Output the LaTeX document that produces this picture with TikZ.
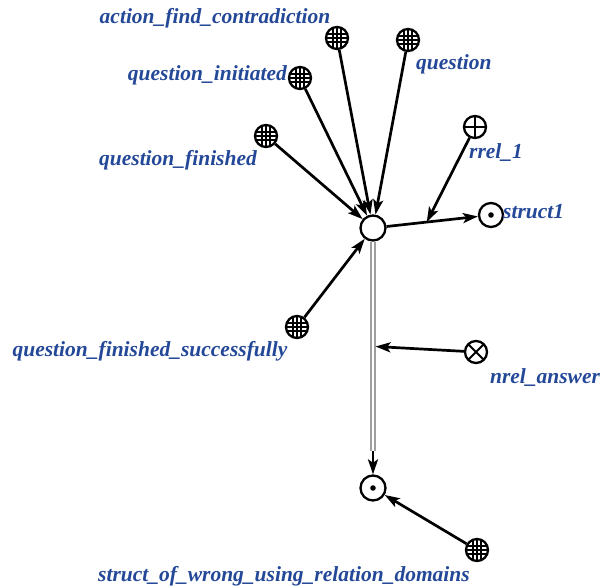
\documentclass[tikz,border=0pt]{standalone}
\usepackage{fontspec}
\setmainfont{Liberation Serif}
\usetikzlibrary{arrows.meta,calc}
\definecolor{lblue}{RGB}{36,72,152}
\tikzset{
  lbl/.style={font=\fontsize{21.5}{24}\selectfont\bfseries\itshape, text=lblue, inner sep=0pt},
  scnode/.style={circle, draw=black, line width=2.3pt, fill=white, minimum size=22pt, inner sep=0pt},
  cls/.style={scnode, minimum size=22pt, path picture={
      \foreach \d in {-4,0,4}{
        \draw[black, line width=1.1pt] ($(path picture bounding box.center)+(\d pt,-13pt)$) -- ++(0,26pt);
        \draw[black, line width=1.1pt] ($(path picture bounding box.center)+(-13pt,\d pt)$) -- ++(26pt,0);
      }}},
  rrel/.style={scnode, minimum size=22pt, path picture={
      \draw[black, line width=1.8pt] ($(path picture bounding box.center)+(0,-13pt)$) -- ++(0,26pt);
      \draw[black, line width=1.8pt] ($(path picture bounding box.center)+(-13pt,0)$) -- ++(26pt,0);}},
  nrel/.style={scnode, minimum size=22pt, path picture={
      \draw[black, line width=1.8pt] ($(path picture bounding box.center)+(-10pt,-10pt)$) -- ++(20pt,20pt);
      \draw[black, line width=1.8pt] ($(path picture bounding box.center)+(-10pt,10pt)$) -- ++(20pt,-20pt);}},
  strc/.style={scnode, minimum size=24pt, path picture={
      \fill[black] (path picture bounding box.center) circle (2.8pt);}},
  arc/.style={line width=2.7pt, draw=black, -{Stealth[length=15pt,width=10pt,inset=3.5pt]}},
}
\begin{document}
\begin{tikzpicture}[x=1pt,y=-1pt]
\useasboundingbox (0,0) rectangle (600,588);
% nodes
\node[scnode, minimum size=25pt] (C) at (373,228) {};
\node[cls] (A) at (337,38) {};
\node[cls] (Q) at (408,40) {};
\node[cls] (QI) at (300,78) {};
\node[cls] (QF) at (266,136) {};
\node[rrel] (R) at (475,127) {};
\node[strc] (S1) at (491,215) {};
\node[cls] (QFS) at (297,327) {};
\node[nrel] (N) at (476,352) {};
\node[strc, minimum size=25pt] (B) at (373,488) {};
\node[cls] (BR) at (477,550) {};
% labels
\node[lbl] (lA) at (215,18) {action\_find\_contradiction};
\node[lbl, anchor=east] (lQI) at (287,75) {question\_initiated};
\node[lbl, anchor=west] (lQ) at (416,64) {question};
\node[lbl] (lQF) at (178,160) {question\_finished};
\node[lbl, anchor=west] (lR) at (469,153) {rrel\_1};
\node[lbl, anchor=west] (lS1) at (503,212) {struct1};
\node[lbl] (lQFS) at (150,351) {question\_finished\_successfully};
\node[lbl] (lN) at (545,378) {nrel\_answer};
\node[lbl] (lB) at (284,576) {struct\_of\_wrong\_using\_relation\_domains};
% arcs into C
\draw[arc] (A) -- (C);
\draw[arc] (Q) -- (C);
\draw[arc] (QI) -- (C);
\draw[arc] (QF) -- (C);
\draw[arc] (QFS) -- (C);
% C -> struct1 with rrel_1 attribute
\draw[arc] (C) -- (S1) coordinate[pos=0.44] (m1);
\draw[arc] (R) -- (m1);
% common arc C => B (double)
\path (C) -- (B) coordinate[pos=0.45] (m2) coordinate[pos=0.90] (m3);
\draw[line width=1.3pt, draw=gray!75, double=white, double distance=2.6pt] (C) -- (m3);
\draw[arc] (m3) -- (B);
\draw[arc, shorten >=2.5pt] (N) -- (m2);
\draw[arc] (BR) -- (B);
\end{tikzpicture}
\end{document}
